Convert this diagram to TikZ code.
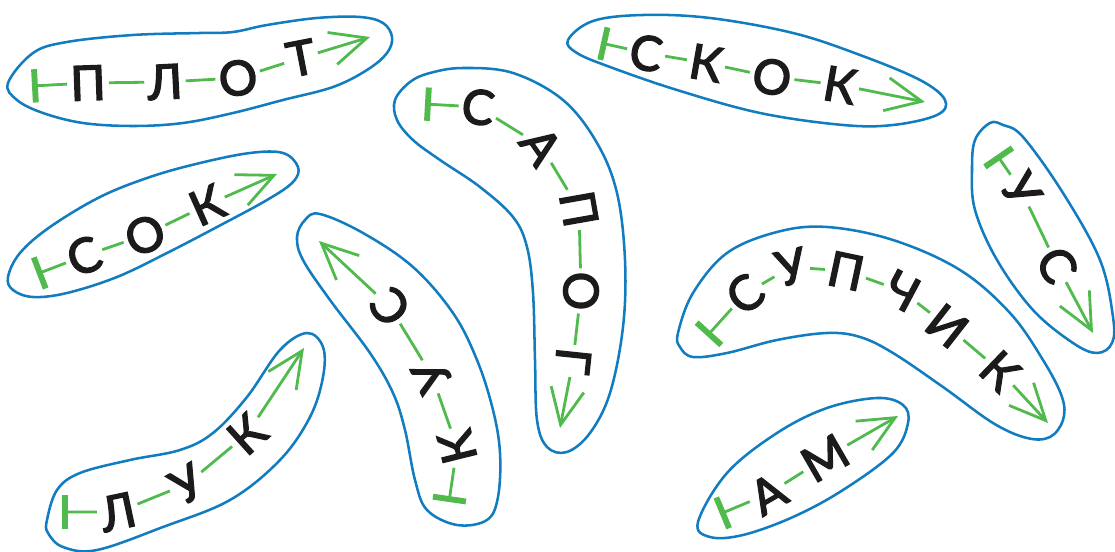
\documentclass[tikz,border=0pt]{standalone}
\usepackage{fontspec}
\newfontfamily\lfont[FakeBold=3]{Lato}
\usetikzlibrary{arrows.meta}
\definecolor{blobblue}{RGB}{18,124,192}
\definecolor{pathgreen}{RGB}{80,186,76}
\definecolor{ink}{RGB}{28,26,27}
\tikzset{
  blob/.style={draw=blobblue, line width=1.9pt},
  gl/.style={draw=pathgreen, line width=2.1pt},
  lt/.style={font=\lfont\fontsize{36}{36}\selectfont, text=ink, inner sep=0pt, outer sep=2.5pt},
  startbar/.tip={Bar[width=25pt, line width=4.4pt]},
  endhead/.tip={Straight Barb[length=27pt, width=25pt]}
}
\begin{document}
\begin{tikzpicture}[x=0.75pt,y=-0.75pt]
\useasboundingbox (0,0) rectangle (1115,552);

% ---------- blobs ----------
% ПЛОТ
\draw[blob] plot[smooth cycle, tension=0.6] coordinates {(8,83) (33,53) (67,42) (133,35) (200,33) (233,32) (267,25) (317,18) (360,17) (383,23) (392,37) (387,53) (367,70) (333,87) (283,100) (233,113) (183,123) (133,126) (83,123) (43,113) (17,100)};
% СОК
\draw[blob] plot[smooth cycle, tension=0.6] coordinates {(8,277) (20,253) (50,227) (100,197) (150,177) (200,163) (250,153) (283,153) (298,167) (293,182) (267,200) (217,227) (167,253) (117,277) (67,293) (33,297) (13,290)};
% СКОК
\draw[blob] plot[smooth cycle, tension=0.6] coordinates {(568,40) (593,21) (643,15) (710,18) (793,33) (860,55) (920,80) (945,100) (937,115) (893,125) (843,125) (760,113) (677,90) (610,67) (577,53)};
% САПОГ
\draw[blob] plot[smooth cycle, tension=0.6] coordinates {(395,100) (410,82) (430,73) (463,68) (513,73) (563,100) (597,143) (617,193) (625,260) (623,327) (610,393) (590,433) (567,452) (547,447) (537,420) (535,360) (533,293) (527,247) (513,217) (480,187) (440,160) (413,140) (397,120)};
% КУС
\draw[blob] plot[smooth cycle, tension=0.6] coordinates {(297,237) (305,220) (320,214) (363,233) (413,267) (453,313) (477,360) (493,410) (500,453) (498,497) (487,520) (457,525) (427,510) (415,480) (405,430) (393,393) (370,353) (330,300) (303,260)};
% УС
\draw[blob] plot[smooth cycle, tension=0.6] coordinates {(990,123) (975,140) (972,170) (975,210) (997,260) (1033,310) (1073,343) (1097,353) (1112,343) (1113,317) (1100,260) (1063,193) (1023,137) (1003,125)};
% СУПЧИК
\draw[blob] plot[smooth cycle, tension=0.6] coordinates {(678,333) (693,293) (727,253) (777,232) (827,227) (893,240) (960,270) (1010,313) (1043,360) (1062,397) (1063,420) (1050,437) (1027,438) (993,423) (943,387) (893,353) (860,337) (827,333) (777,340) (727,353) (693,357) (680,347)};
% АМ
\draw[blob] plot[smooth cycle, tension=0.6] coordinates {(698,522) (727,473) (777,433) (827,408) (877,398) (903,405) (908,423) (893,453) (843,490) (793,517) (743,535) (710,537)};
% ЛУК
\draw[blob] plot[smooth cycle, tension=0.6] coordinates {(47,520) (57,490) (80,473) (130,460) (180,450) (213,433) (247,397) (280,350) (307,333) (323,347) (323,377) (310,417) (280,460) (230,500) (163,527) (97,550) (63,547) (48,533)};

% ---------- ПЛОТ ----------
\coordinate (a0) at (32,86);
\node[lt, rotate=2] (a1) at (88,83) {П};
\node[lt, rotate=3] (a2) at (165,82) {Л};
\node[lt, rotate=8] (a3) at (238,78) {О};
\node[lt, rotate=11] (a4) at (301,58) {Т};
\coordinate (a5) at (370,37);
\draw[gl, startbar-] (a0) -- (a1);
\draw[gl] (a1) -- (a2);
\draw[gl] (a2) -- (a3);
\draw[gl] (a3) -- (a4);
\draw[gl, -endhead] (a4) -- (a5);

% ---------- СОК ----------
\coordinate (b0) at (37,274);
\node[lt, rotate=22] (b1) at (84,256) {С};
\node[lt, rotate=22] (b2) at (145,235) {О};
\node[lt, rotate=24] (b3) at (207,205) {К};
\coordinate (b4) at (277,174);
\draw[gl, startbar-] (b0) -- (b1);
\draw[gl] (b1) -- (b2);
\draw[gl] (b2) -- (b3);
\draw[gl, -endhead] (b3) -- (b4);

% ---------- СКОК ----------
\coordinate (c0) at (601,43);
\node[lt, rotate=-9] (c1) at (646,53) {С};
\node[lt, rotate=-10] (c2) at (706,63) {К};
\node[lt, rotate=-10] (c3) at (772,77) {О};
\node[lt, rotate=-10] (c4) at (840,85) {К};
\coordinate (c5) at (925,102);
\draw[gl, startbar-] (c0) -- (c1);
\draw[gl] (c1) -- (c2);
\draw[gl] (c2) -- (c3);
\draw[gl] (c3) -- (c4);
\draw[gl, -endhead] (c4) -- (c5);

% ---------- САПОГ ----------
\coordinate (d0) at (425,104);
\node[lt, rotate=-8] (d1) at (478,107) {С};
\node[lt, rotate=-55] (d2) at (541,146) {А};
\node[lt, rotate=-80] (d3) at (579,209) {П};
\node[lt, rotate=-90] (d4) at (581,291) {О};
\node[lt, rotate=-96] (d5) at (573,361) {Г};
\coordinate (d6) at (560,428);
\draw[gl, startbar-] (d0) -- (d1);
\draw[gl] (d1) -- (d2);
\draw[gl] (d2) -- (d3);
\draw[gl] (d3) -- (d4);
\draw[gl] (d4) -- (d5);
\draw[gl, -endhead] (d5) -- (d6);

% ---------- КУС ----------
\coordinate (e0) at (449,502);
\node[lt, rotate=104] (e1) at (457,447) {К};
\node[lt, rotate=115] (e2) at (432,376) {У};
\node[lt, rotate=128] (e3) at (390,307) {С};
\coordinate (e4) at (319,241);
\draw[gl, startbar-] (e0) -- (e1);
\draw[gl] (e1) -- (e2);
\draw[gl] (e2) -- (e3);
\draw[gl, -endhead] (e3) -- (e4);

% ---------- УС ----------
\coordinate (f0) at (997,155);
\node[lt, rotate=-60] (f1) at (1021,190) {У};
\node[lt, rotate=-61] (f2) at (1057,265) {С};
\coordinate (f3) at (1093,333);
\draw[gl, startbar-] (f0) -- (f1);
\draw[gl] (f1) -- (f2);
\draw[gl, -endhead] (f2) -- (f3);

% ---------- СУПЧИК ----------
\coordinate (g0) at (707,336);
\node[lt, rotate=39] (g1) at (745,294) {С};
\node[lt, rotate=13] (g2) at (791,267) {У};
\node[lt, rotate=-12] (g3) at (846,271) {П};
\node[lt, rotate=-28] (g4) at (902,291) {Ч};
\node[lt, rotate=-38] (g5) at (947,326) {И};
\node[lt, rotate=-44] (g6) at (1000,371) {К};
\coordinate (g7) at (1048,423);
\draw[gl, startbar-] (g0) -- (g1);
\draw[gl] (g1) -- (g2);
\draw[gl] (g2) -- (g3);
\draw[gl] (g3) -- (g4);
\draw[gl] (g4) -- (g5);
\draw[gl] (g5) -- (g6);
\draw[gl, -endhead] (g6) -- (g7);

% ---------- АМ ----------
\coordinate (h0) at (720,514);
\node[lt, rotate=30] (h1) at (768,494) {А};
\node[lt, rotate=30] (h2) at (825,458) {М};
\coordinate (h3) at (898,416);
\draw[gl, startbar-] (h0) -- (h1);
\draw[gl] (h1) -- (h2);
\draw[gl, -endhead] (h2) -- (h3);

% ---------- ЛУК ----------
\coordinate (i0) at (62,512);
\node[lt, rotate=12] (i1) at (118,512) {Л};
\node[lt, rotate=30] (i2) at (187,484) {У};
\node[lt, rotate=42] (i3) at (247,434) {К};
\coordinate (i4) at (304,348);
\draw[gl, startbar-] (i0) -- (i1);
\draw[gl] (i1) -- (i2);
\draw[gl] (i2) -- (i3);
\draw[gl, -endhead] (i3) -- (i4);
\end{tikzpicture}
\end{document}
